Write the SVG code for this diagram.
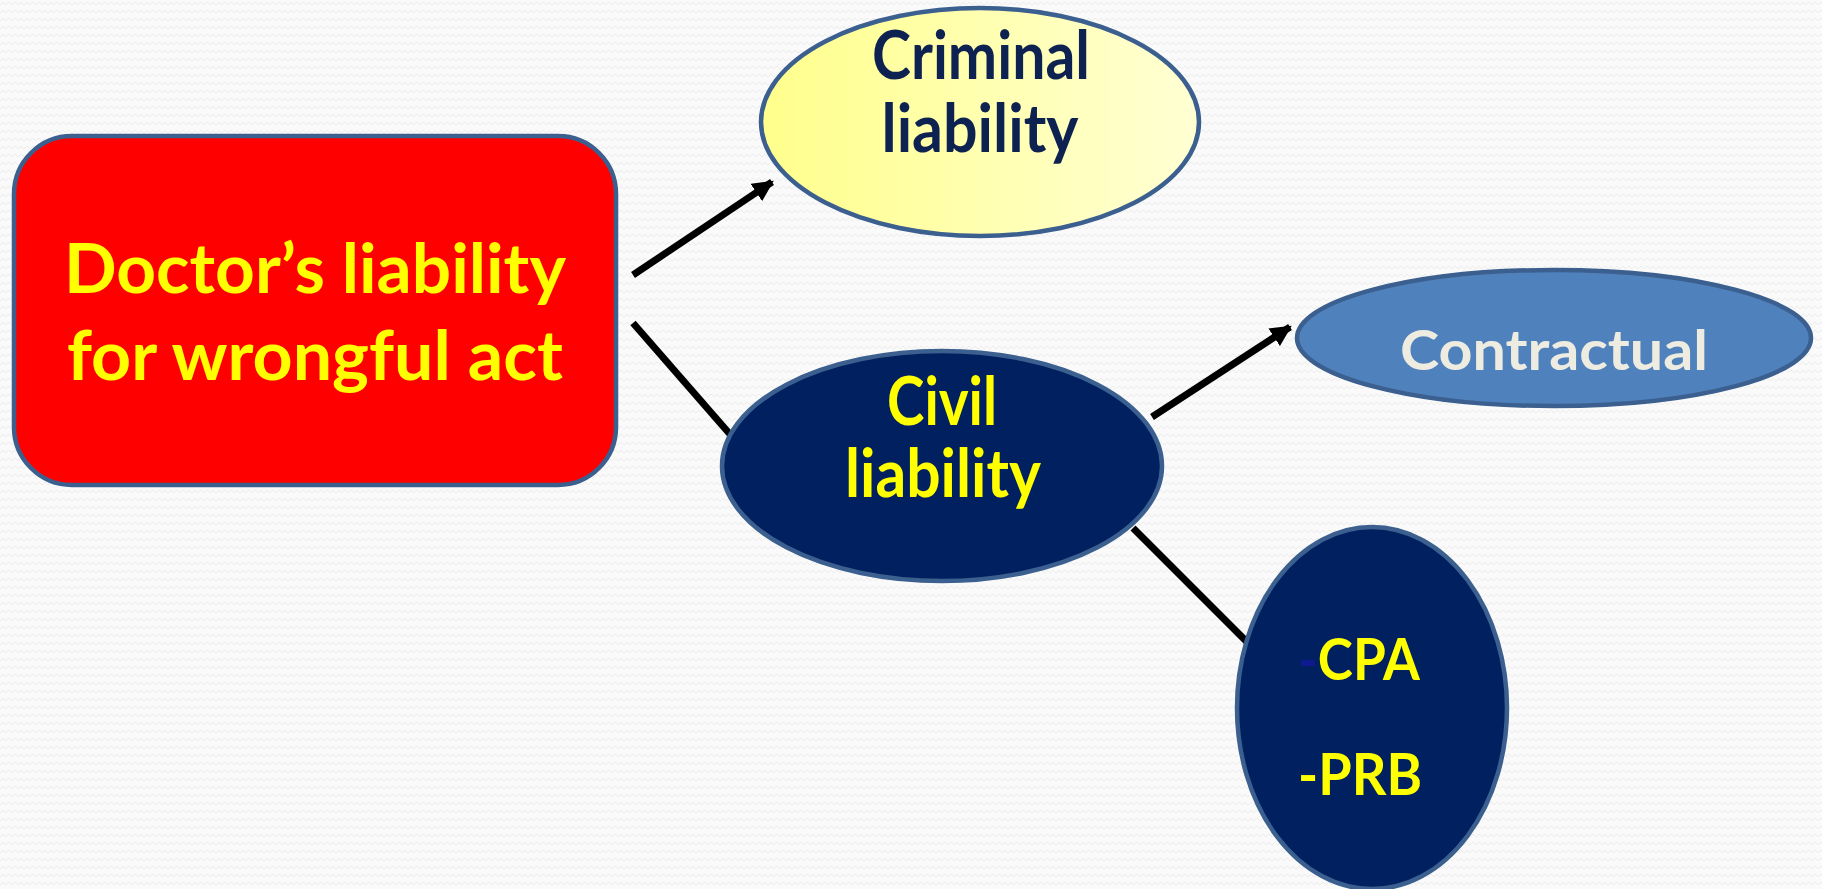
<svg xmlns="http://www.w3.org/2000/svg" width="1822" height="889" viewBox="0 0 1822 889">
<style>
.t{font-family:Lato,"Open Sans","Liberation Sans",sans-serif;font-weight:bold;text-anchor:middle}
.s{font-family:Lato,"Open Sans","Liberation Sans",sans-serif;font-weight:bold}
.shape{stroke:#3b5f8e;stroke-width:4.5}
.conn{stroke:#000;stroke-width:7;fill:none}
</style>
<defs>
<pattern id="bg" width="12" height="8" patternUnits="userSpaceOnUse">
<rect width="12" height="8" fill="#fafafa"/>
<path d="M0 5 L3 2 L6 5 L9 2 L12 5" stroke="#ececec" stroke-width="1" fill="none"/>
</pattern>
<linearGradient id="yel" x1="0" y1="0" x2="1" y2="0">
<stop offset="0" stop-color="#ffff8c"/>
<stop offset="1" stop-color="#ffffd4"/>
</linearGradient>
<marker id="ah" viewBox="0 0 10 10" refX="9" refY="5" markerWidth="3" markerHeight="3" orient="auto" markerUnits="strokeWidth">
<path d="M0 0 L10 5 L0 10 z" fill="#000"/>
</marker>
</defs>
<rect width="1822" height="889" fill="url(#bg)"/>
<g id="connectors">
<line class="conn" x1="633" y1="275" x2="772" y2="182" marker-end="url(#ah)"/>
<line class="conn" x1="633" y1="323" x2="735" y2="440"/>
<line class="conn" x1="1152" y1="417" x2="1290" y2="327" marker-end="url(#ah)"/>
<line class="conn" x1="1133" y1="528" x2="1250" y2="645"/>
</g>
<g id="doctor">
<rect class="shape" x="14" y="136" width="602" height="349" rx="58" fill="#ff0000"/>
<text class="t" x="315" y="293" font-size="68" fill="#ffff00" textLength="502" lengthAdjust="spacingAndGlyphs">Doctor’s liability</text>
<text class="t" x="315" y="380" font-size="68" fill="#ffff00" textLength="496" lengthAdjust="spacingAndGlyphs">for wrongful act</text>
</g>
<g id="criminal">
<ellipse class="shape" cx="980" cy="122" rx="219" ry="114" fill="url(#yel)"/>
<text class="t" x="981" y="79" font-size="66" fill="#0d2251" textLength="218" lengthAdjust="spacingAndGlyphs">Criminal</text>
<text class="t" x="980" y="152" font-size="66" fill="#0d2251" textLength="197" lengthAdjust="spacingAndGlyphs">liability</text>
</g>
<g id="civil">
<ellipse class="shape" cx="942" cy="466" rx="220" ry="115" fill="#002060"/>
<text class="t" x="942" y="425" font-size="66" fill="#ffff00" textLength="110" lengthAdjust="spacingAndGlyphs">Civil</text>
<text class="t" x="943" y="497" font-size="66" fill="#ffff00" textLength="196" lengthAdjust="spacingAndGlyphs">liability</text>
</g>
<g id="contractual">
<ellipse class="shape" cx="1554" cy="338" rx="257" ry="68" fill="#4f81bd"/>
<text class="t" x="1554" y="370" font-size="56" fill="#eeece1" textLength="308" lengthAdjust="spacingAndGlyphs">Contractual</text>
</g>
<g id="cpa">
<ellipse class="shape" cx="1372" cy="708" rx="135" ry="181" fill="#002060"/>
<text class="s" x="1298" y="680" font-size="58" textLength="122" lengthAdjust="spacingAndGlyphs"><tspan fill="#0f1a90">-</tspan><tspan fill="#ffff00">CPA</tspan></text>
<text class="s" x="1298" y="795" font-size="58" fill="#ffff00" textLength="124" lengthAdjust="spacingAndGlyphs">-PRB</text>
</g>
</svg>
